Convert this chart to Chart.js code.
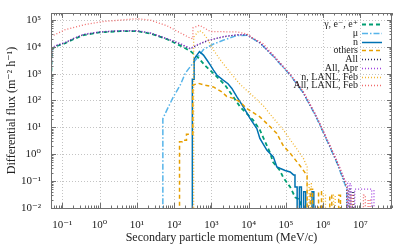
<!DOCTYPE html>
<html>
<head>
<meta charset="utf-8">
<script src="https://cdn.jsdelivr.net/npm/chart.js@4.4.1/dist/chart.umd.min.js"></script>
<style>
  html, body { margin: 0; padding: 0; background: #fff; }
</style>
</head>
<body>
<canvas id="fluxChart" width="411" height="247"></canvas>
<script>
// secondary particle spectra, momentum in MeV/c, flux in m^-2 h^-1
const FLOOR = 1e-4; // below the y axis, used for the histogram drop-outs

const gammaMomentum = [0.05, 0.052, 0.055, 0.07, 0.12, 0.2, 0.37, 1.0, 3.6, 10, 23, 65, 146, 270, 440, 680, 1260, 2340, 3850, 5900, 9700, 1.32e4, 2.0e4, 3.8e4, 4.5e4, 6.9e4, 8.4e4, 1.3e5, 1.77e5, 2.4e5, 2.4e5];
const gammaFlux = [110, 4800, 8600, 1.05e4, 1.35e4, 1.9e4, 2.7e4, 3.4e4, 3.8e4, 3.8e4, 3.1e4, 1.9e4, 1.1e4, 7000, 4000, 2000, 890, 370, 140, 58, 29, 18.6, 8, 1.1, 0.51, 0.25, 0.14, 0.06, 0.025, 0.02, FLOOR];

const muMomentum = [50, 50, 64, 96, 146, 199, 270, 410, 614, 1140, 2070, 4800, 9100, 2.0e4, 4.5e4, 1.3e5, 2.9e5, 6.5e5, 1.5e6, 2.5e6, 3.9e6, 4.3e6, 4.3e6];
const muFlux = [FLOOR, 21, 44, 138, 370, 1020, 1800, 3700, 7900, 1.26e4, 1.74e4, 2.6e4, 2.7e4, 1.38e4, 4500, 880, 195, 24, 1.9, 0.38, 0.07, 0.05, FLOOR];

const nMomentum = [309, 309, 345, 345, 480, 614, 760, 930, 1140, 1400, 2070, 2800, 3550, 4800, 7200, 1.1e4, 1.66e4, 2.0e4, 3.1e4, 4.6e4, 5.7e4, 6.9e4, 9.5e4, 1.3e5, 1.6e5, 1.75e5, 1.75e5, 2.0e5, 2.0e5, 2.3e5, 2.3e5, 2.6e5, 2.6e5, 3.0e5, 3.0e5, 3.4e5, 3.4e5, 5.0e5, 5.0e5, 5.6e5, 5.6e5];
const nFlux = [FLOOR, 620, 620, 3500, 6600, 4900, 3200, 2100, 1350, 890, 575, 420, 280, 140, 58, 21, 9.1, 3.9, 1.4, 0.8, 0.34, 0.3, 0.25, 0.22, 0.17, 0.17, 0.06, 0.06, FLOOR, FLOOR, 0.06, 0.06, FLOOR, FLOOR, 0.04, 0.04, FLOOR, FLOOR, 0.04, 0.04, FLOOR];

const othersMomentum = [140, 140, 165, 165, 215, 215, 318, 318, 440, 680, 1140, 1900, 2600, 3900, 5900, 8900, 2.0e4, 3.8e4, 5.7e4, 8.6e4, 1.3e5, 1.77e5, 2.6e5, 3.7e5, 3.7e5, 4.5e5, 4.5e5, 5.2e5, 5.2e5, 7.5e5, 7.5e5, 9.0e5, 9.0e5, 1.5e6, 1.5e6, 1.7e6, 1.7e6, 2.6e6, 2.6e6, 2.9e6, 2.9e6];
const othersFlux = [FLOOR, 2.9, 2.9, 3.3, 3.3, 5.6, 5.6, 370, 440, 370, 320, 210, 140, 120, 89, 50, 24.5, 10.5, 5.9, 2.0, 1.1, 0.63, 0.32, 0.16, FLOOR, FLOOR, 0.05, 0.05, FLOOR, FLOOR, 0.04, 0.04, FLOOR, FLOOR, 0.03, 0.03, FLOOR, FLOOR, 0.03, 0.03, FLOOR];

const allMomentum = [0.05, 0.052, 0.055, 0.07, 0.12, 0.2, 0.37, 1.0, 3.6, 10, 23, 65, 150, 270, 420, 770, 2100, 4900, 9100, 2.0e4, 4.5e4, 1.3e5, 2.9e5, 6.5e5, 1.5e6, 2.5e6, 3.9e6, 4.3e6, 4.3e6, 4.8e6, 4.8e6, 5.3e6, 5.3e6, 6.0e6, 6.0e6, 6.6e6, 6.6e6];
const allFlux = [130, 5000, 9000, 1.1e4, 1.4e4, 2.0e4, 2.8e4, 3.5e4, 3.9e4, 3.9e4, 3.2e4, 1.95e4, 1.25e4, 8300, 1.15e4, 1.65e4, 2.35e4, 2.75e4, 2.75e4, 1.4e4, 4600, 900, 200, 25, 2.0, 0.4, 0.08, 0.06, FLOOR, FLOOR, 0.05, 0.05, FLOOR, FLOOR, 0.04, 0.04, FLOOR];

const allAprMomentum = [0.05, 0.052, 0.055, 0.07, 0.12, 0.2, 0.37, 1.0, 3.6, 10, 23, 65, 150, 270, 420, 770, 2100, 4900, 9100, 2.0e4, 4.5e4, 1.3e5, 2.9e5, 6.5e5, 1.5e6, 2.5e6, 3.9e6, 4.5e6, 4.5e6, 5.0e6, 5.0e6, 5.6e6, 5.6e6, 7.0e6, 7.0e6, 2.0e7, 2.0e7, 2.3e7, 2.3e7];
const allAprFlux = [140, 5200, 9300, 1.15e4, 1.45e4, 2.05e4, 2.9e4, 3.6e4, 4.0e4, 4.0e4, 3.3e4, 2.0e4, 1.3e4, 8600, 1.2e4, 1.7e4, 2.4e4, 2.8e4, 2.8e4, 1.45e4, 4800, 950, 210, 27, 2.2, 0.45, 0.1, 0.09, FLOOR, FLOOR, 0.08, 0.08, FLOOR, FLOOR, 0.05, 0.05, FLOOR, FLOOR, 0.05, 0.05, FLOOR];

const nLanlMomentum = [335, 335, 470, 556, 760, 1140, 1720, 3200, 5900, 1.35e4, 2.5e4, 4.6e4, 8.6e4, 1.3e5, 1.95e5, 2.95e5, 3.7e5, 3.7e5, 4.2e5, 4.2e5, 4.8e5, 4.8e5, 1.0e6, 1.0e6, 1.15e6, 1.15e6, 1.9e6, 1.9e6, 2.1e6, 2.1e6];
const nLanlFlux = [FLOOR, 2.3e4, 4.0e4, 3.6e4, 2.1e4, 7600, 3300, 1100, 400, 140, 63, 22, 8, 3.5, 1.6, 0.7, 0.34, FLOOR, FLOOR, 0.08, 0.08, FLOOR, FLOOR, 0.03, 0.03, FLOOR, FLOOR, 0.03, 0.03, FLOOR];

const allLanlMomentum = [0.05, 0.12, 0.37, 1.26, 10, 23, 65, 146, 270, 320, 320, 485, 930, 2600, 4900, 8900, 1.3e4, 2.45e4, 4.5e4, 1.3e5, 2.9e5, 6.5e5, 1.5e6, 2.5e6, 3.9e6, 4.4e6, 4.4e6, 5.5e6, 5.5e6, 6.2e6, 6.2e6, 1.2e7, 1.2e7, 1.35e7, 1.35e7, 1.6e7, 1.6e7, 1.8e7, 1.8e7];
const allLanlFlux = [2.4e4, 4.3e4, 6.5e4, 8.7e4, 1.1e5, 9.8e4, 6.0e4, 3.3e4, 2.1e4, 2.0e4, 5.0e4, 6.3e4, 3.7e4, 3.6e4, 3.55e4, 3.0e4, 2.1e4, 1.3e4, 5000, 950, 220, 27, 2.2, 0.45, 0.1, 0.05, FLOOR, FLOOR, 0.03, 0.03, FLOOR, FLOOR, 0.03, 0.03, FLOOR, FLOOR, 0.02, 0.02, FLOOR];

const xDecades = [-1, 0, 1, 2, 3, 4, 5, 6, 7];
const yDecades = [-2, -1, 0, 1, 2, 3, 4, 5];

const SERIF = "'Liberation Serif', 'DejaVu Serif', serif";
const SUP = { '-': '\u207B', '0': '\u2070', '1': '\u00B9', '2': '\u00B2', '3': '\u00B3', '4': '\u2074', '5': '\u2075', '6': '\u2076', '7': '\u2077', '8': '\u2078', '9': '\u2079' };

function points(mom, flux) {
  return mom.map((m, i) => ({ x: m, y: flux[i] }));
}

function decadeLabel(value, decades) {
  const e = Math.round(Math.log10(value));
  if (Math.abs(Math.log10(value) - e) > 1e-6 || !decades.includes(e)) return '';
  return '10' + String(e).split('').map(c => SUP[c]).join('');
}

function series(label, mom, flux, color, dash, width) {
  return {
    label: label,
    data: points(mom, flux),
    borderColor: color,
    backgroundColor: color,
    borderDash: dash,
    borderWidth: width,
    pointRadius: 0,
    tension: 0,
    fill: false
  };
}

const datasets = [
  series('\u03B3, e\u207B, e\u207A', gammaMomentum, gammaFlux, '#009e73', [4, 3], 1.8),
  series('\u03BC', muMomentum, muFlux, '#56b4e9', [6, 2, 1.5, 2], 1.5),
  series('n', nMomentum, nFlux, '#0072b2', [], 1.5),
  series('others', othersMomentum, othersFlux, '#e69f00', [4, 3], 1.5),
  series('All', allMomentum, allFlux, '#23235a', [1, 2], 1.3),
  series('All, Apr', allAprMomentum, allAprFlux, '#a040e0', [1, 2], 1.3),
  series('n, LANL, Feb', nLanlMomentum, nLanlFlux, '#f2b632', [1, 2], 1.3),
  series('All, LANL, Feb', allLanlMomentum, allLanlFlux, '#f06a6a', [1, 2], 1.3)
];
// later entries sit on top, as in the original
datasets.forEach((d, i) => { d.order = datasets.length - i; });

function isDecade(v) {
  const l = Math.log10(v);
  return Math.abs(l - Math.round(l)) < 1e-6;
}

function tickValues(scale) {
  const vals = [];
  const lo = Math.floor(Math.log10(scale.min)), hi = Math.ceil(Math.log10(scale.max));
  for (let e = lo; e <= hi; e++) {
    for (let k = 1; k < 10; k++) {
      const v = k * Math.pow(10, e);
      if (v >= scale.min * 0.999 && v <= scale.max * 1.001) vals.push(v);
    }
  }
  return vals;
}

// dotted grid at the decades
const decadeGrid = {
  id: 'decadeGrid',
  beforeDatasetsDraw(chart) {
    const { ctx, chartArea: a, scales: { x, y } } = chart;
    ctx.save();
    ctx.strokeStyle = '#c4c4c4';
    ctx.lineWidth = 1;
    ctx.setLineDash([1, 2]);
    ctx.beginPath();
    xDecades.forEach(e => {
      const px = Math.round(x.getPixelForValue(Math.pow(10, e))) + 0.5;
      ctx.moveTo(px, a.top); ctx.lineTo(px, a.bottom);
    });
    yDecades.forEach(e => {
      const py = Math.round(y.getPixelForValue(Math.pow(10, e))) + 0.5;
      if (py <= a.top + 1 || py >= a.bottom - 1) return;
      ctx.moveTo(a.left, py); ctx.lineTo(a.right, py);
    });
    ctx.stroke();
    ctx.restore();
  }
};

// box border with inward ticks on all four sides
const frameTicks = {
  id: 'frameTicks',
  afterDatasetsDraw(chart) {
    const { ctx, chartArea: a, scales: { x, y } } = chart;
    ctx.save();
    ctx.strokeStyle = '#707070';
    ctx.lineWidth = 1;
    ctx.setLineDash([]);
    ctx.beginPath();
    tickValues(x).forEach(v => {
      const px = Math.round(x.getPixelForValue(v)) + 0.5;
      const len = isDecade(v) ? 5 : 2.5;
      ctx.moveTo(px, a.bottom); ctx.lineTo(px, a.bottom - len);
      ctx.moveTo(px, a.top); ctx.lineTo(px, a.top + len);
    });
    tickValues(y).forEach(v => {
      const py = Math.round(y.getPixelForValue(v)) + 0.5;
      const len = isDecade(v) ? 5 : 2.5;
      ctx.moveTo(a.left, py); ctx.lineTo(a.left + len, py);
      ctx.moveTo(a.right, py); ctx.lineTo(a.right - len, py);
    });
    ctx.stroke();
    ctx.strokeRect(Math.round(a.left) + 0.5, Math.round(a.top) + 0.5, Math.round(a.width) - 1, Math.round(a.height));
    ctx.restore();
  }
};

// key in the top right corner: right-aligned text, sample line after it
const keyBox = {
  id: 'keyBox',
  afterDraw(chart) {
    const { ctx } = chart;
    const textRight = 358, lineStart = 362, lineEnd = 382, top = 24.2, step = 8.75;
    ctx.save();
    ctx.font = '10px ' + SERIF;
    ctx.textAlign = 'right';
    ctx.textBaseline = 'middle';
    chart.data.datasets.forEach((d, i) => {
      const yy = Math.round(top + i * step) + 0.5;
      ctx.fillStyle = '#222';
      ctx.fillText(d.label, textRight, yy);
      ctx.strokeStyle = d.borderColor;
      ctx.lineWidth = d.borderWidth;
      ctx.setLineDash(d.borderDash);
      ctx.beginPath();
      ctx.moveTo(lineStart, yy);
      ctx.lineTo(lineEnd, yy);
      ctx.stroke();
    });
    ctx.restore();
  }
};

new Chart(document.getElementById('fluxChart'), {
  type: 'line',
  data: { datasets: datasets },
  options: {
    responsive: false,
    animation: false,
    layout: { padding: { top: 13, right: 19, left: 0, bottom: 0 } },
    plugins: { legend: { display: false }, tooltip: { enabled: false } },
    scales: {
      x: {
        type: 'logarithmic',
        min: 0.05,
        max: 7e7,
        afterFit(scale) { scale.height = 39; },
        grid: { display: false },
        border: { display: false },
        ticks: {
          autoSkip: false,
          maxRotation: 0,
          minRotation: 0,
          padding: 3,
          color: '#222',
          font: { family: SERIF, size: 11 },
          callback: (v) => decadeLabel(v, xDecades)
        },
        title: {
          display: true,
          text: 'Secondary particle momentum (MeV/c)',
          color: '#222',
          font: { family: SERIF, size: 12 },
          padding: { top: 0, bottom: 2 }
        }
      },
      y: {
        type: 'logarithmic',
        min: 0.01,
        max: 1.8e5,
        afterFit(scale) { scale.width = 51; },
        grid: { display: false },
        border: { display: false },
        ticks: {
          autoSkip: false,
          padding: 2,
          color: '#222',
          font: { family: SERIF, size: 11 },
          callback: (v) => decadeLabel(v, yDecades)
        },
        title: {
          display: true,
          text: 'Differential flux (m\u207B\u00B2 h\u207B\u00B9)',
          color: '#222',
          font: { family: SERIF, size: 12 },
          padding: { top: 5, bottom: 0 }
        }
      }
    }
  },
  plugins: [decadeGrid, frameTicks, keyBox]
});
</script>
</body>
</html>
